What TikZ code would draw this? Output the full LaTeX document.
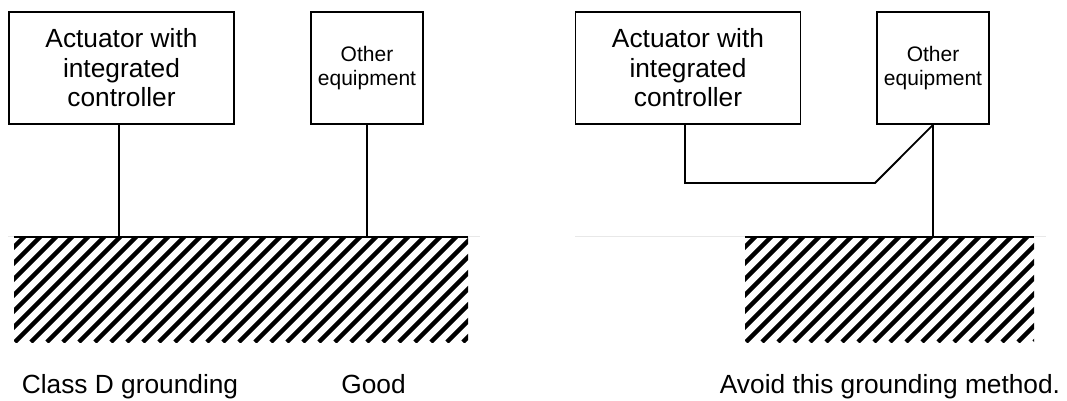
\documentclass[tikz,border=0pt]{standalone}
\usepackage{fontspec}
\setmainfont{Liberation Sans}
\usetikzlibrary{calc}
\begin{document}
\begin{tikzpicture}[x=1pt,y=-1pt,
  wire/.style={line width=1.8pt, line join=miter},
  bigbox/.style={draw, line width=1.8pt, minimum width=225pt, minimum height=112pt, inner sep=0pt, align=center, font=\fontsize{26.3}{29.5}\selectfont},
  smallbox/.style={draw, line width=1.8pt, minimum width=112pt, minimum height=112pt, inner sep=0pt, align=center, font=\fontsize{21}{23.5}\selectfont},
  ground/.style={inner sep=0pt, minimum height=105pt,
    path picture={\foreach \k in {-9,...,32}{\draw[line width=4.5pt] ($(path picture bounding box.south west)+(\k*16+1,0)$) -- ++(230,-230);}}},
  caption/.style={anchor=base, inner sep=0pt, font=\fontsize{26.3}{29.5}\selectfont},
  faint/.style={draw=black!9, line width=1pt}
]
\useasboundingbox (0,0) rectangle (1067,400);
% faint reference lines
\coordinate (fl1) at (8,236);
\coordinate (fr1) at (480,236);
\coordinate (fl2) at (575,236);
\coordinate (fr2) at (1046,236);
\draw[faint] (fl1) -- (fr1);
\draw[faint] (fl2) -- (fr2);
% left panel
\node[bigbox] (a1) at (121.5,68) {Actuator with\\integrated\\controller};
\node[smallbox] (o1) at (367,68) {Other\\equipment};
\node[ground, minimum width=454pt] (g1) at (241,289.5) {};
\draw[wire] (g1.north west) -- (g1.north east);
\draw[wire] (a1.south) ++(-2.5,0) coordinate (a1s) -- (a1s |- g1.north);
\draw[wire] (o1.south) -- (o1.south |- g1.north);
\node[caption] (c1) at (130,393) {Class D grounding};
\node[caption] (c2) at (373.5,393) {Good};
% right panel
\node[bigbox] (a2) at (688,68) {Actuator with\\integrated\\controller};
\node[smallbox] (o2) at (933,68) {Other\\equipment};
\node[ground, minimum width=289pt] (g2) at (889.5,289.5) {};
\draw[wire] (g2.north west) -- (g2.north east);
\coordinate (bend) at (875,183);
\draw[wire] (a2.south) ++(-3,0) coordinate (a2s) -- (a2s |- bend) -- (bend) -- (o2.south);
\draw[wire] (o2.south) -- (o2.south |- g2.north);
\node[caption] (c3) at (890,393) {Avoid this grounding method.};
\end{tikzpicture}
\end{document}
